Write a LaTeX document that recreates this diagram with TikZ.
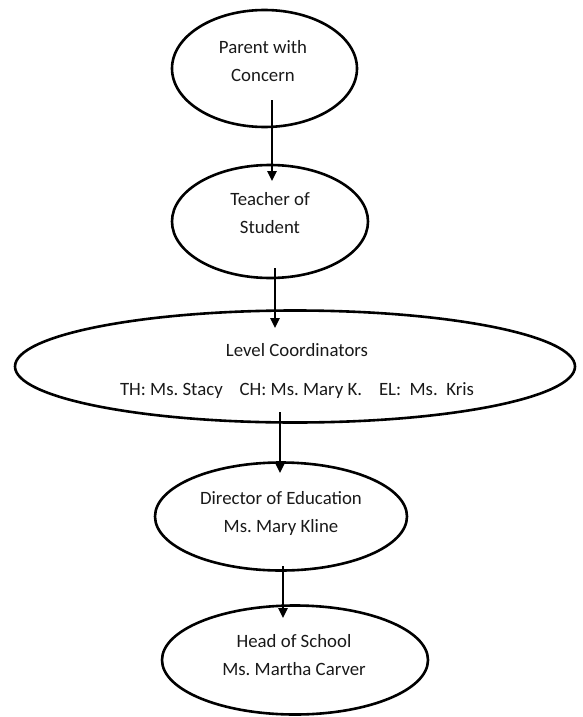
\documentclass[tikz,border=0pt]{standalone}
\usepackage{fontspec}
\setmainfont{Carlito}
\usetikzlibrary{shapes.geometric,arrows.meta}
\frenchspacing
\begin{document}
\begin{tikzpicture}[x=1pt,y=-1pt,
  oval/.style={draw=black,line width=2.6pt,ellipse,inner sep=0pt},
  lbl/.style={font=\fontsize{18.8}{28}\selectfont,align=center,inner sep=0pt,text=black!90},
  arr/.style={line width=2.4pt,-{Triangle[length=10pt,width=9pt]}}]
\useasboundingbox (0,0) rectangle (582,717);
% ellipses
\node[oval,minimum width=185pt,minimum height=117pt] (e1) at (264.5,68.5) {};
\node[oval,minimum width=196pt,minimum height=113pt] (e2) at (270,221.5) {};
\node[oval,minimum width=560pt,minimum height=112pt] (e3) at (295,366.5) {};
\node[oval,minimum width=252pt,minimum height=108pt] (e4) at (281,516.5) {};
\node[oval,minimum width=266pt,minimum height=109pt] (e5) at (295,660) {};
% texts
\node[lbl] (t1) at (263,61) {Parent with\\Concern};
\node[lbl] (t2) at (270,213.5) {Teacher of\\Student};
\node[lbl] (t3a) at (297,350) {Level Coordinators};
\node[lbl] (t3b) at (297,391) {TH: Ms. Stacy\hspace{0.9em}CH: Ms. Mary K.\hspace{0.9em}EL:\hspace{0.45em}Ms.\hspace{0.45em}Kris};
\node[lbl] (t4) at (281,513) {Director of Education\\Ms. Mary Kline};
\node[lbl] (t5) at (294,655.5) {Head of School\\Ms. Martha Carver};
% connector anchors
\coordinate (s1) at (272,100);
\coordinate (d1) at (272,181);
\coordinate (s2) at (275,268);
\coordinate (d2) at (275,328);
\coordinate (s3) at (280,412);
\coordinate (d3) at (280,473);
\coordinate (s4) at (283,566);
\coordinate (d4) at (283,618);
\draw[arr] (s1) -- (d1);
\draw[arr] (s2) -- (d2);
\draw[arr] (s3) -- (d3);
\draw[arr] (s4) -- (d4);
\end{tikzpicture}
\end{document}
